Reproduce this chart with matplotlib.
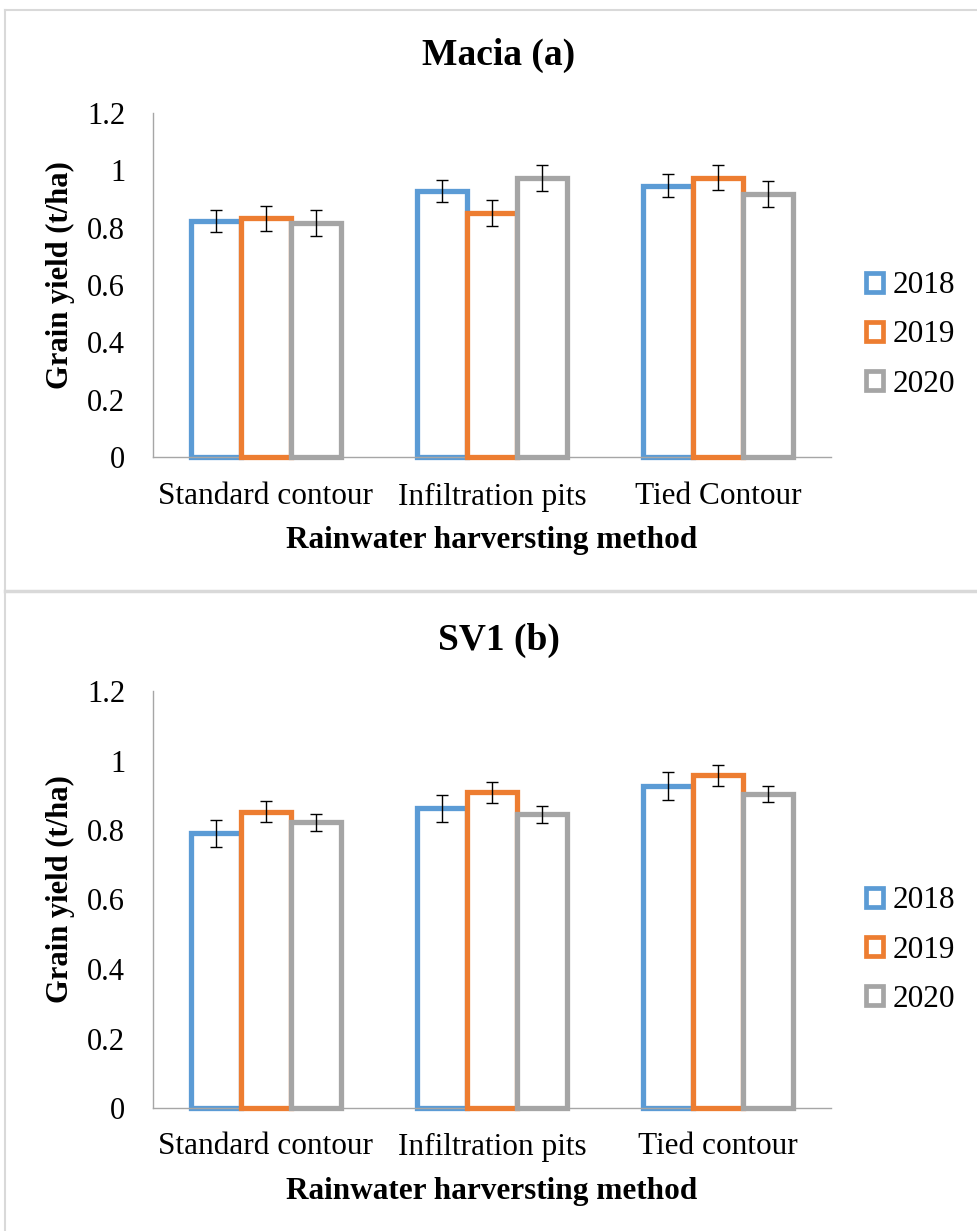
import numpy as np
import matplotlib
matplotlib.use("Agg")
import matplotlib.pyplot as plt
from matplotlib.patches import Patch
from matplotlib.lines import Line2D

plt.rcParams['font.family'] = ['Liberation Serif', 'DejaVu Serif']

W, H = 977, 1231

# data
years = ["2018", "2019", "2020"]
colors = ["#5B9BD5", "#ED7D31", "#A5A5A5"]

methods_a = ["Standard contour", "Infiltration pits", "Tied Contour"]
macia_2018 = [0.823, 0.928, 0.947]
macia_2019 = [0.832, 0.851, 0.974]
macia_2020 = [0.817, 0.974, 0.918]
macia_err_2018 = [0.038, 0.038, 0.039]
macia_err_2019 = [0.045, 0.045, 0.044]
macia_err_2020 = [0.046, 0.045, 0.046]

methods_b = ["Standard contour", "Infiltration pits", "Tied contour"]
sv1_2018 = [0.790, 0.862, 0.927]
sv1_2019 = [0.853, 0.908, 0.958]
sv1_2020 = [0.822, 0.845, 0.904]
sv1_err_2018 = [0.039, 0.040, 0.040]
sv1_err_2019 = [0.031, 0.030, 0.030]
sv1_err_2020 = [0.024, 0.024, 0.024]

yticks = [0, 0.2, 0.4, 0.6, 0.8, 1.0, 1.2]
ytick_labels = ["0", "0.2", "0.4", "0.6", "0.8", "1", "1.2"]

fig = plt.figure(figsize=(W / 100, H / 100), dpi=100)


def fx(x):
    return x / W


def fy(y):
    return 1 - y / H


# panel borders
border = "#D9D9D9"
fig.add_artist(Line2D([fx(5), fx(5)], [fy(10), fy(1240)], color=border, lw=1.5))
fig.add_artist(Line2D([fx(5), 1], [fy(10), fy(10)], color=border, lw=1.5))
fig.add_artist(Line2D([fx(5), 1], [fy(591), fy(591)], color=border, lw=2.5))


def draw_panel(top, bottom, title, title_y, cats, vals, errs, tick_y, lab_y, leg_y):
    ax = fig.add_axes([fx(153), fy(bottom), fx(831) - fx(153), fy(top) - fy(bottom)])
    x = np.arange(len(cats))
    w = 0.2225
    for i in range(3):
        ax.bar(x + (i - 1) * w, vals[i], width=w, facecolor="white",
               edgecolor=colors[i], linewidth=3.8, clip_on=False, zorder=2 + i)
        ax.errorbar(x + (i - 1) * w, vals[i], yerr=errs[i], fmt="none",
                    ecolor="black", elinewidth=1.0, capsize=4.6, capthick=1.0,
                    zorder=10)
    ax.set_xlim(-0.5, 2.5)
    ax.set_ylim(0, 1.2)
    ax.set_yticks(yticks)
    ax.set_yticklabels(ytick_labels)
    ax.set_xticks(x)
    ax.set_xticklabels([])
    ax.tick_params(axis="both", length=0, labelsize=22)
    ax.tick_params(axis="y", pad=20)
    for s in ["top", "right"]:
        ax.spines[s].set_visible(False)
    for s in ["left", "bottom"]:
        ax.spines[s].set_color("#A6A6A6")
        ax.spines[s].set_linewidth(1.0)
    # category labels
    for xi, c in zip(x, cats):
        xpix = 153 + (xi + 0.5) / 3 * (831 - 153)
        fig.text(fx(xpix), fy(tick_y), c, ha="center", va="center", fontsize=22.5)
    fig.text(fx(499), fy(title_y), title, ha="center", va="center",
             fontsize=27, fontweight="bold")
    fig.text(fx(492), fy(lab_y), "Rainwater harversting method", ha="center",
             va="center", fontsize=22.5, fontweight="bold")
    fig.text(fx(60), fy((top + bottom) / 2 - 10), "Grain yield (t/ha)", ha="center",
             va="center", rotation=90, fontsize=22, fontweight="bold")
    handles = [Patch(facecolor="white", edgecolor=c, linewidth=3.4) for c in colors]
    fig.legend(handles, years, loc="center left",
               bbox_to_anchor=(fx(866), fy(leg_y)), frameon=False, fontsize=22.5,
               handlelength=0.55, handleheight=0.55, handletextpad=0.3,
               labelspacing=0.65, borderaxespad=0, borderpad=0)
    return ax


draw_panel(113, 457, "Macia (a)", 55, methods_a,
           [macia_2018, macia_2019, macia_2020],
           [macia_err_2018, macia_err_2019, macia_err_2020], 497, 541, 335)
draw_panel(691, 1108, "SV1 (b)", 640, methods_b,
           [sv1_2018, sv1_2019, sv1_2020],
           [sv1_err_2018, sv1_err_2019, sv1_err_2020], 1147, 1192, 950)

fig.savefig("out.png", dpi=100)
